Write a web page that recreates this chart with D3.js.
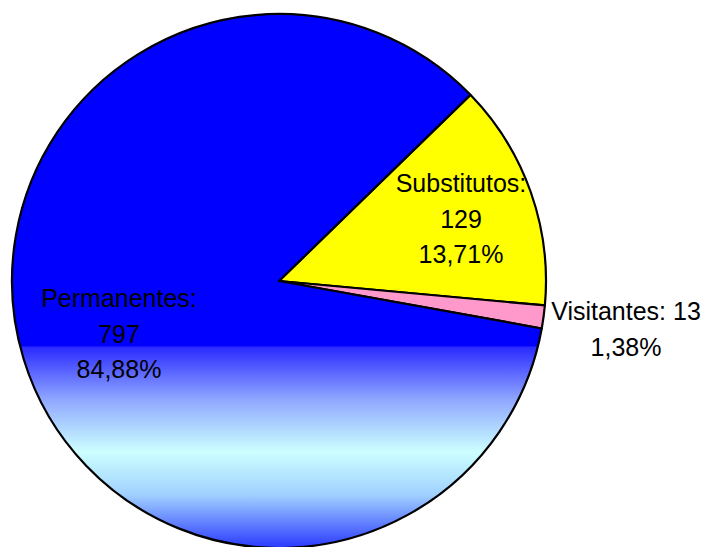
<!DOCTYPE html>
<html>
<head>
<meta charset="utf-8">
<script src="https://cdn.jsdelivr.net/npm/d3@7"></script>
<style>
  html, body { margin: 0; padding: 0; background: #fff; }
  svg { display: block; }
  text { font-family: "Liberation Sans", Arial, sans-serif; fill: #000; }
</style>
</head>
<body>
<svg id="chart" width="707" height="547"></svg>
<script>
// Data
const categories = ["Substitutos", "Visitantes", "Permanentes"];
const values = [129, 13, 797];
const percentLabels = ["13,71%", "1,38%", "84,88%"];
const colors = ["#ffff00", "#ff99cc", "url(#permGrad)"];

const W = 707, H = 547;
const cx = 279, cy = 281, R = 267;
const startDeg = 45.8;

const svg = d3.select("#chart");
const defs = svg.append("defs");
const yEnd = cy + R;
// gradient defined in the pie group's local coordinates (origin at centre)
const grad = defs.append("linearGradient")
  .attr("id", "permGrad")
  .attr("gradientUnits", "userSpaceOnUse")
  .attr("x1", 0).attr("y1", -cy).attr("x2", 0).attr("y2", yEnd - cy);
[
  [0, "#0000ff"],
  [346 / yEnd, "#0000ff"],
  [347 / yEnd, "#2a2aff"],
  [400 / yEnd, "#90a8ff"],
  [452 / yEnd, "#ccffff"],
  [495 / yEnd, "#a0d0ff"],
  [1, "#2a3aff"]
].forEach(([o, c]) => grad.append("stop").attr("offset", o).attr("stop-color", c));

const pie = d3.pie().sort(null).value(d => d)
  .startAngle(startDeg * Math.PI / 180)
  .endAngle(startDeg * Math.PI / 180 + 2 * Math.PI);
const arcs = pie(values);
const arc = d3.arc().innerRadius(0).outerRadius(R);

const g = svg.append("g").attr("transform", `translate(${cx},${cy})`);
g.selectAll("path").data(arcs).enter().append("path")
  .attr("d", arc)
  .attr("fill", (d, i) => colors[i])
  .attr("stroke", "#000")
  .attr("stroke-width", 2.2)
  .attr("stroke-linejoin", "round");

// Labels
const fs = 25;
const labelSpecs = [
  { x: 461, y: 192, lines: [categories[0] + ":", String(values[0]), percentLabels[0]] },
  { x: 626, y: 320, lines: [categories[1] + ": " + values[1], percentLabels[1]] },
  { x: 119, y: 307, lines: [categories[2] + ":", String(values[2]), percentLabels[2]] }
];
labelSpecs.forEach(s => {
  const t = svg.append("text")
    .attr("text-anchor", "middle")
    .attr("font-size", fs);
  s.lines.forEach((ln, j) => {
    t.append("tspan").attr("x", s.x).attr("y", s.y + j * 35.5).text(ln);
  });
});
</script>
</body>
</html>
